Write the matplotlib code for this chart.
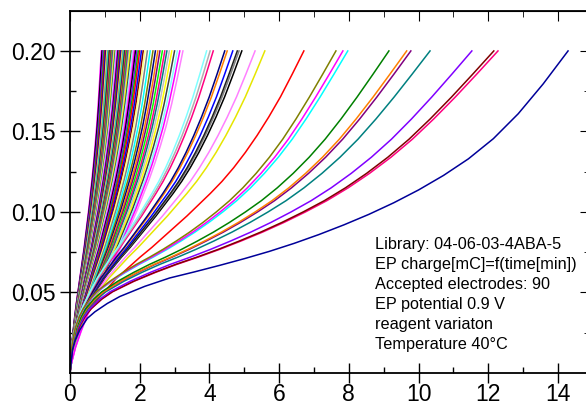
import matplotlib
matplotlib.use("Agg")
import matplotlib.pyplot as plt
import numpy as np

plt.rcParams['font.family'] = ['Liberation Sans', 'DejaVu Sans']

# fraction of each curve's end time, shared by all profiles
frac = [0, 0.005, 0.01, 0.02, 0.035, 0.05, 0.075, 0.1, 0.15, 0.2, 0.25, 0.3, 0.35,
        0.4, 0.45, 0.5, 0.55, 0.6, 0.65, 0.7, 0.75, 0.8, 0.85, 0.9, 0.95, 1.0]

# charge [mC], one profile per curve family
prof_slow = [0, 0.0145, 0.020, 0.027, 0.034, 0.038, 0.0432, 0.0475, 0.0538, 0.059, 0.0628, 0.0668, 0.071,
             0.0755, 0.0805, 0.086, 0.092, 0.0985, 0.1057, 0.1137, 0.1227, 0.133, 0.1455, 0.161, 0.1795, 0.2]
prof_late = [0, 0.014, 0.020, 0.028, 0.035, 0.040, 0.046, 0.0505, 0.057, 0.0625, 0.0675, 0.072, 0.0768,
             0.082, 0.0875, 0.0935, 0.1, 0.107, 0.115, 0.124, 0.134, 0.1452, 0.1578, 0.1713, 0.1855, 0.2]
prof_mid = [0, 0.010, 0.0145, 0.021, 0.027, 0.0315, 0.0375, 0.0425, 0.051, 0.059, 0.0655, 0.072, 0.078,
            0.0845, 0.091, 0.0975, 0.1045, 0.1115, 0.119, 0.1275, 0.137, 0.1475, 0.159, 0.1715, 0.1855, 0.2]
prof_fast = [0, 0.003, 0.005, 0.008, 0.012, 0.016, 0.021, 0.026, 0.035, 0.043, 0.050, 0.057, 0.064,
             0.071, 0.078, 0.086, 0.094, 0.102, 0.111, 0.120, 0.130, 0.141, 0.153, 0.167, 0.183, 0.2]

# end time [min] of every electrode, by family
t_slow = [14.29]
t_late = [12.28, 12.16, 11.53, 10.33, 9.78, 9.66, 9.15, 7.97, 7.83, 7.63]
t_mid = [6.71, 5.59, 5.31, 4.93, 4.85, 4.80, 4.67, 4.51, 4.44, 4.11, 4.02, 3.92]
t_fast = [0.90, 0.92, 0.95, 0.98, 1.00, 1.02, 1.04, 1.06, 1.08, 1.10, 1.12, 1.14, 1.16, 1.18,
          1.20, 1.22, 1.24, 1.26, 1.28, 1.30, 1.32, 1.34, 1.36, 1.38, 1.40, 1.42, 1.44, 1.46,
          1.48, 1.50, 1.52, 1.54, 1.56, 1.58, 1.60, 1.62, 1.64, 1.66, 1.68, 1.70, 1.73, 1.76,
          1.79, 1.82, 1.85, 1.88, 1.92, 1.96, 2.00, 2.05, 2.10, 2.15, 2.22, 2.30, 2.38, 2.45,
          2.52, 2.58, 2.65, 2.72, 2.78, 2.85, 2.92, 3.00, 3.08, 3.24, 3.15]

c_slow = ['#000099']
c_late = ['#ff0080', '#800000', '#8000ff', '#008080', '#800080', '#ff8000', '#008000',
          '#00ffff', '#ff00ff', '#808000']
c_mid = ['#ff0000', '#e6e600', '#ff80ff', '#000000', '#808080', '#202020', '#0000ff',
         '#ff8000', '#000080', '#ff0080', '#b0b0b0', '#80ffff']
palette = ['#ff00ff', '#000000', '#8000ff', '#00c000', '#ff0000', '#0000ff', '#800000',
           '#ffff80', '#808080', '#00ffff', '#808000', '#000080', '#ff8000', '#800080',
           '#00ff00', '#ff0080', '#008080', '#c0c0c0', '#ffff00', '#404040', '#80ffff', '#ff80ff']

legend_lines = ["Library: 04-06-03-4ABA-5",
                "EP charge[mC]=f(time[min])",
                "Accepted electrodes: 90",
                "EP potential 0.9 V",
                "reagent variaton",
                "Temperature 40°C"]

fig = plt.figure(figsize=(5.86, 4.08), dpi=100)
ax = fig.add_axes([70 / 586, 1 - 373 / 408, 520 / 586, 362 / 408])

f = np.array(frac)
for i, t in enumerate(t_fast):
    ax.plot(f * t, prof_fast, color=palette[i % len(palette)], lw=1.1)
for t, c in zip(t_mid, c_mid):
    ax.plot(f * t, prof_mid, color=c, lw=1.1)
for t, c in zip(t_late, c_late):
    ax.plot(f * t, prof_late, color=c, lw=1.1)
for t, c in zip(t_slow, c_slow):
    ax.plot(f * t, prof_slow, color=c, lw=1.1)

ax.set_xlim(0, 14.92)
ax.set_ylim(0, 0.2248)
ax.set_xticks(range(0, 15, 2))
ax.set_xticks(range(1, 15, 2), minor=True)
ax.set_yticks([0.05, 0.10, 0.15, 0.20])
ax.set_yticklabels(["0.05", "0.10", "0.15", "0.20"])
ax.set_yticks([0.025, 0.075, 0.125, 0.175], minor=True)
ax.tick_params(which='major', direction='inout', length=14, width=1.0, labelsize=16.5)
ax.tick_params(which='minor', direction='in', length=4, width=1.0)
ax.tick_params(axis='y', pad=3)
ax.tick_params(axis='x', pad=0)
for s in ax.spines.values():
    s.set_linewidth(1.3)

# top / right ticks point inward only
top = ax.secondary_xaxis('top')
top.set_xticks(range(0, 15, 2))
top.set_xticks(range(1, 15, 2), minor=True)
top.tick_params(which='major', direction='in', length=7, labeltop=False)
top.tick_params(which='minor', direction='in', length=4)
right = ax.secondary_yaxis('right')
right.set_yticks([0.05, 0.10, 0.15, 0.20])
right.set_yticks([0.025, 0.075, 0.125, 0.175], minor=True)
right.tick_params(which='major', direction='in', length=7, labelright=False)
right.tick_params(which='minor', direction='in', length=4)

for k, line in enumerate(legend_lines):
    fig.text(375 / 586, 1 - (245 + 20 * k) / 408, line, fontsize=11.7, va='center', ha='left')

fig.savefig("out.png", dpi=100)
